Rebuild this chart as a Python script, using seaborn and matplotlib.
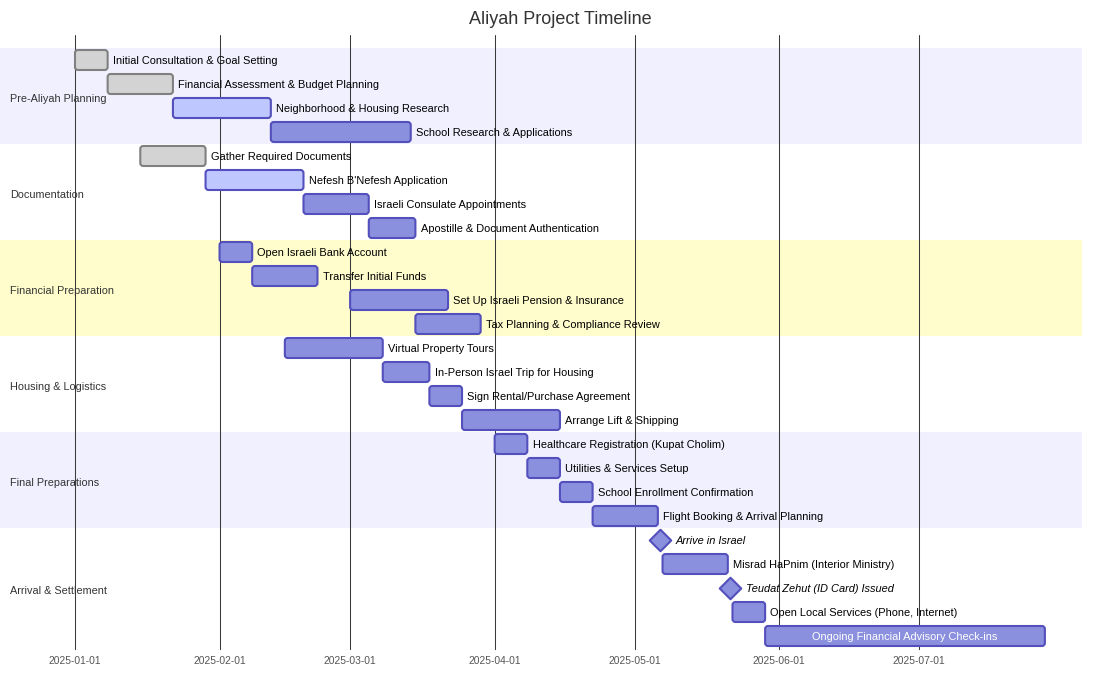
import matplotlib
matplotlib.use("Agg")
import matplotlib.pyplot as plt
import matplotlib.dates as mdates
from matplotlib.patches import FancyBboxPatch
import seaborn as sns
import pandas as pd

# ---------------- data ----------------
TITLE = "Aliyah Project Timeline"
sections = ["Pre-Aliyah Planning", "Documentation", "Financial Preparation",
            "Housing & Logistics", "Final Preparations", "Arrival & Settlement"]

task_names = [
    "Initial Consultation & Goal Setting", "Financial Assessment & Budget Planning",
    "Neighborhood & Housing Research", "School Research & Applications",
    "Gather Required Documents", "Nefesh B'Nefesh Application",
    "Israeli Consulate Appointments", "Apostille & Document Authentication",
    "Open Israeli Bank Account", "Transfer Initial Funds",
    "Set Up Israeli Pension & Insurance", "Tax Planning & Compliance Review",
    "Virtual Property Tours", "In-Person Israel Trip for Housing",
    "Sign Rental/Purchase Agreement", "Arrange Lift & Shipping",
    "Healthcare Registration (Kupat Cholim)", "Utilities & Services Setup",
    "School Enrollment Confirmation", "Flight Booking & Arrival Planning",
    "Arrive in Israel", "Misrad HaPnim (Interior Ministry)",
    "Teudat Zehut (ID Card) Issued", "Open Local Services (Phone, Internet)",
    "Ongoing Financial Advisory Check-ins",
]
task_sections = ([sections[0]] * 4 + [sections[1]] * 4 + [sections[2]] * 4 +
                 [sections[3]] * 4 + [sections[4]] * 4 + [sections[5]] * 5)
task_start = [
    "2025-01-01", "2025-01-08", "2025-01-22", "2025-02-12",
    "2025-01-15", "2025-01-29", "2025-02-19", "2025-03-05",
    "2025-02-01", "2025-02-08", "2025-03-01", "2025-03-15",
    "2025-02-15", "2025-03-08", "2025-03-18", "2025-03-25",
    "2025-04-01", "2025-04-08", "2025-04-15", "2025-04-22",
    "2025-05-06", "2025-05-07", "2025-05-21", "2025-05-22", "2025-05-29",
]
task_end = [
    "2025-01-08", "2025-01-22", "2025-02-12", "2025-03-14",
    "2025-01-29", "2025-02-19", "2025-03-05", "2025-03-15",
    "2025-02-08", "2025-02-22", "2025-03-22", "2025-03-29",
    "2025-03-08", "2025-03-18", "2025-03-25", "2025-04-15",
    "2025-04-08", "2025-04-15", "2025-04-22", "2025-05-06",
    "2025-05-07", "2025-05-21", "2025-05-22", "2025-05-29", "2025-07-28",
]
task_status = [
    "done", "done", "active", "normal",
    "done", "active", "normal", "normal",
    "normal", "normal", "normal", "normal",
    "normal", "normal", "normal", "normal",
    "normal", "normal", "normal", "normal",
    "milestone", "normal", "milestone", "normal", "normal",
]
tick_dates = ["2025-01-01", "2025-02-01", "2025-03-01", "2025-04-01",
              "2025-05-01", "2025-06-01", "2025-07-01"]

# ---------------- styles ----------------
section_fill = ["#f0f0ff", "#ffffff", "#fffdcc", "#ffffff", "#f0f0ff", "#ffffff"]
status_fill = {"done": "#d3d3d3", "active": "#bfc7ff", "normal": "#8a90dd",
               "milestone": "#8a90dd"}
status_edge = {"done": "#808080", "active": "#534fbc", "normal": "#534fbc",
               "milestone": "#534fbc"}
FONT = ["Liberation Sans", "DejaVu Sans"]
TASK_FS = 7.9
SEC_FS = 7.85

sns.set_theme(style="white")
plt.rcParams["font.family"] = FONT

df = pd.DataFrame({"task": task_names, "section": task_sections,
                   "start": pd.to_datetime(task_start),
                   "end": pd.to_datetime(task_end), "status": task_status})
df["row"] = range(len(df))
df["s"] = mdates.date2num(df["start"])
df["e"] = mdates.date2num(df["end"])
df["mid"] = (df["s"] + df["e"]) / 2

W, H = 1120, 700
fig = plt.figure(figsize=(W / 100, H / 100), dpi=100)
top_px, bot_px = 35, 650
ax = fig.add_axes([0, 1 - bot_px / H, 1, (bot_px - top_px) / H])

tick_num = mdates.date2num(pd.to_datetime(tick_dates))
px_per_day = (919 - 75) / (tick_num[-1] - tick_num[0])
x0 = tick_num[0] - 75 / px_per_day
ax.set_xlim(x0, x0 + W / px_per_day)
row_px = 24
first_center = 60
y_top = -(first_center - top_px) / row_px
ax.set_ylim(y_top + (bot_px - top_px) / row_px, y_top)
dy = 1.0 / row_px  # 1px downward shift for text

# section bands and labels
for i, sec in enumerate(sections):
    rows = df.loc[df["section"] == sec, "row"]
    lo, hi = rows.min() - 0.5, rows.max() + 0.5
    ax.axhspan(lo, hi, xmin=0, xmax=1082 / W, color=section_fill[i % len(section_fill)],
               lw=0, zorder=0)
    ax.text(x0 + 10 / px_per_day, (lo + hi) / 2 + 3 * dy, sec, ha="left", va="center",
            fontsize=SEC_FS, color="#333333", zorder=4)

# grid lines
for t in tick_num:
    ax.axvline(t, color="#3a3a3a", lw=0.75, zorder=1)

# bars
bar_h = 20 / row_px
rx = 3 / px_per_day
aspect = (3 / row_px) / rx
fig.canvas.draw()
renderer = fig.canvas.get_renderer()
bars = df[df["status"] != "milestone"]
for _, r in bars.iterrows():
    p = FancyBboxPatch((r["s"], r["row"] - bar_h / 2), r["e"] - r["s"], bar_h,
                       boxstyle=f"round,pad=0,rounding_size={rx}",
                       mutation_aspect=aspect, fc=status_fill[r["status"]],
                       ec=status_edge[r["status"]], lw=1.5, zorder=2)
    ax.add_patch(p)
    t = ax.text(r["mid"], r["row"] + dy, r["task"], ha="center", va="center",
                fontsize=TASK_FS, color="white", zorder=5)
    tw = t.get_window_extent(renderer).width
    if tw + 10 > (r["e"] - r["s"]) * px_per_day:
        t.remove()
        ax.annotate(r["task"], (r["e"], r["row"] + dy), xytext=(3.75, 0),
                    textcoords="offset points", ha="left", va="center",
                    fontsize=TASK_FS, color="black", zorder=5)

# milestones via seaborn
ms = df[df["status"] == "milestone"]
sns.scatterplot(data=ms, x="mid", y="row", marker="D", s=120, color="#8a90dd",
                edgecolor="#534fbc", linewidth=1.5, zorder=3, ax=ax, legend=False)
for _, r in ms.iterrows():
    ax.annotate(r["task"], (r["mid"], r["row"] + dy), xytext=(11.25, 0),
                textcoords="offset points", ha="left", va="center",
                fontsize=TASK_FS, style="italic", color="black", zorder=5)

# axes styling
ax.set_xticks(tick_num)
ax.set_xticklabels(tick_dates)
ax.tick_params(axis="x", length=0, pad=4, labelsize=7.4, labelcolor="#555555")
ax.set_yticks([])
ax.set_xlabel("")
ax.set_ylabel("")
for sp in ax.spines.values():
    sp.set_visible(False)
ax.set_facecolor("white")

fig.text(0.5, 1 - 20 / H, TITLE, ha="center", va="center", fontsize=13.0, color="#333333")

fig.savefig("out.png", dpi=100, facecolor="white")
